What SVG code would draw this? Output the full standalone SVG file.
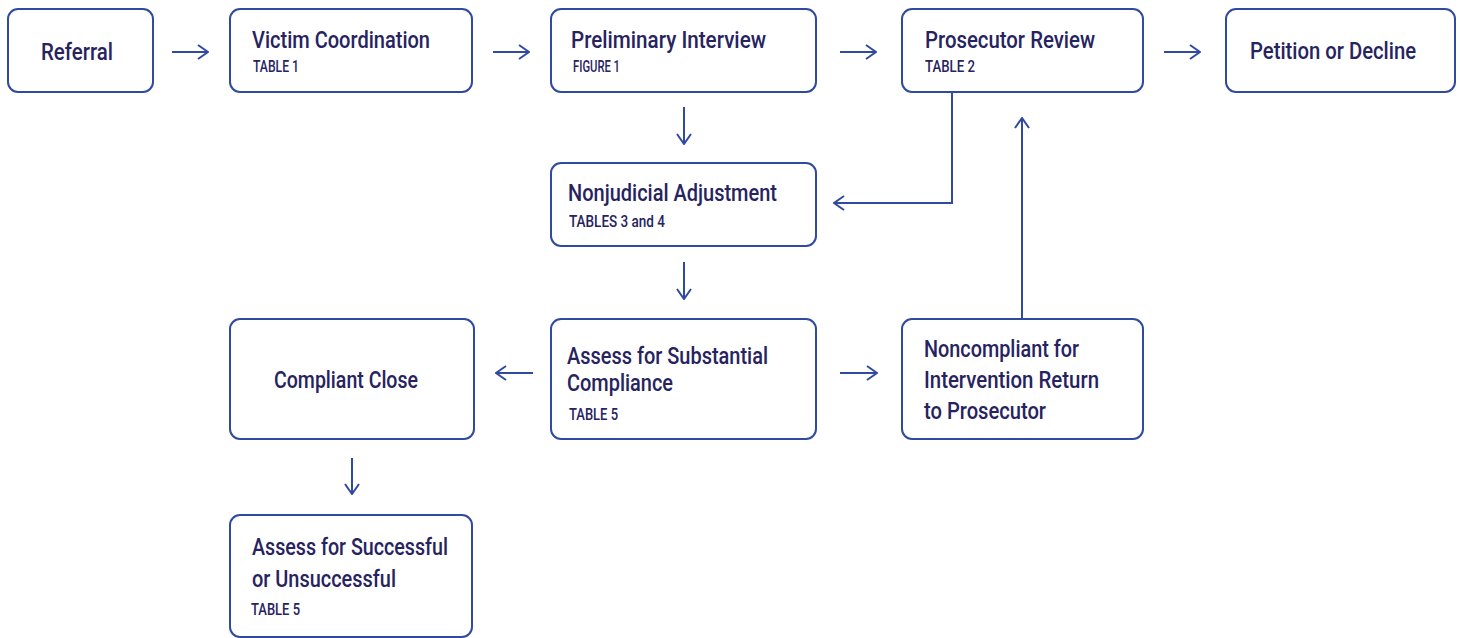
<svg xmlns="http://www.w3.org/2000/svg" width="1460" height="638" viewBox="0 0 1460 638">
<defs>
<style>
.box{fill:#fff;stroke:#2f4a9f;stroke-width:2}
.t{font-family:Roboto,"Liberation Sans",sans-serif;font-weight:500;font-size:24px;fill:#26235f}
.s{font-family:Roboto,"Liberation Sans",sans-serif;font-weight:500;font-size:16px;fill:#26235f}
.c{fill:none;stroke:#2f4a9f;stroke-width:2}
</style>
<marker id="ah" viewBox="0 0 12 16" refX="11" refY="8" markerWidth="12" markerHeight="16" markerUnits="userSpaceOnUse" orient="auto">
<path d="M1,1 L11,8 L1,15" fill="none" stroke="#2f4a9f" stroke-width="2"/>
</marker>
</defs>
<rect width="1460" height="638" fill="#fff"/>
<g id="connectors">
<path class="c" d="M172,52 H208" marker-end="url(#ah)"/>
<path class="c" d="M493,52 H529" marker-end="url(#ah)"/>
<path class="c" d="M840,52 H876" marker-end="url(#ah)"/>
<path class="c" d="M1164,52 H1200" marker-end="url(#ah)"/>
<path class="c" d="M684,107 V144" marker-end="url(#ah)"/>
<path class="c" d="M952,92 V203 H834" marker-end="url(#ah)"/>
<path class="c" d="M684,262 V299" marker-end="url(#ah)"/>
<path class="c" d="M533,373 H496" marker-end="url(#ah)"/>
<path class="c" d="M840,373 H877" marker-end="url(#ah)"/>
<path class="c" d="M1022,319 V118" marker-end="url(#ah)"/>
<path class="c" d="M352,458 V494" marker-end="url(#ah)"/>
</g>
<g id="referral"><rect class="box" x="8" y="9" width="145" height="83" rx="10"/><text class="t" x="41" y="60" textLength="72" lengthAdjust="spacingAndGlyphs">Referral</text></g>
<g id="victim"><rect class="box" x="230" y="9" width="242" height="83" rx="10"/><text class="t" x="252" y="48" textLength="178" lengthAdjust="spacingAndGlyphs">Victim Coordination</text><text class="s" x="253" y="72" textLength="46" lengthAdjust="spacingAndGlyphs">TABLE 1</text></g>
<g id="prelim"><rect class="box" x="551" y="9" width="265" height="83" rx="10"/><text class="t" x="571" y="48" textLength="195" lengthAdjust="spacingAndGlyphs">Preliminary Interview</text><text class="s" x="573" y="72" textLength="47" lengthAdjust="spacingAndGlyphs">FIGURE 1</text></g>
<g id="prosecutor"><rect class="box" x="902" y="9" width="241" height="83" rx="10"/><text class="t" x="925" y="48" textLength="170" lengthAdjust="spacingAndGlyphs">Prosecutor Review</text><text class="s" x="925" y="72" textLength="50" lengthAdjust="spacingAndGlyphs">TABLE 2</text></g>
<g id="petition"><rect class="box" x="1226" y="9" width="229" height="83" rx="10"/><text class="t" x="1250" y="59" textLength="166" lengthAdjust="spacingAndGlyphs">Petition or Decline</text></g>
<g id="nonjudicial"><rect class="box" x="551" y="163" width="265" height="83" rx="10"/><text class="t" x="568" y="201" textLength="209" lengthAdjust="spacingAndGlyphs">Nonjudicial Adjustment</text><text class="s" x="569" y="227" textLength="96" lengthAdjust="spacingAndGlyphs">TABLES 3 and 4</text></g>
<g id="compliant"><rect class="box" x="230" y="319" width="244" height="120" rx="10"/><text class="t" x="274" y="388" textLength="144" lengthAdjust="spacingAndGlyphs">Compliant Close</text></g>
<g id="substantial"><rect class="box" x="551" y="319" width="265" height="120" rx="10"/><text class="t" x="567" y="364" textLength="201" lengthAdjust="spacingAndGlyphs">Assess for Substantial</text><text class="t" x="567" y="391" textLength="106" lengthAdjust="spacingAndGlyphs">Compliance</text><text class="s" x="569" y="420" textLength="49" lengthAdjust="spacingAndGlyphs">TABLE 5</text></g>
<g id="noncompliant"><rect class="box" x="902" y="319" width="241" height="120" rx="10"/><text class="t" x="924" y="357" textLength="155" lengthAdjust="spacingAndGlyphs">Noncompliant for</text><text class="t" x="924" y="388" textLength="175" lengthAdjust="spacingAndGlyphs">Intervention Return</text><text class="t" x="924" y="419" textLength="122" lengthAdjust="spacingAndGlyphs">to Prosecutor</text></g>
<g id="successful"><rect class="box" x="230" y="515" width="242" height="122" rx="10"/><text class="t" x="252" y="555" textLength="196" lengthAdjust="spacingAndGlyphs">Assess for Successful</text><text class="t" x="252" y="587" textLength="144" lengthAdjust="spacingAndGlyphs">or Unsuccessful</text><text class="s" x="251" y="615" textLength="49" lengthAdjust="spacingAndGlyphs">TABLE 5</text></g>
</svg>
